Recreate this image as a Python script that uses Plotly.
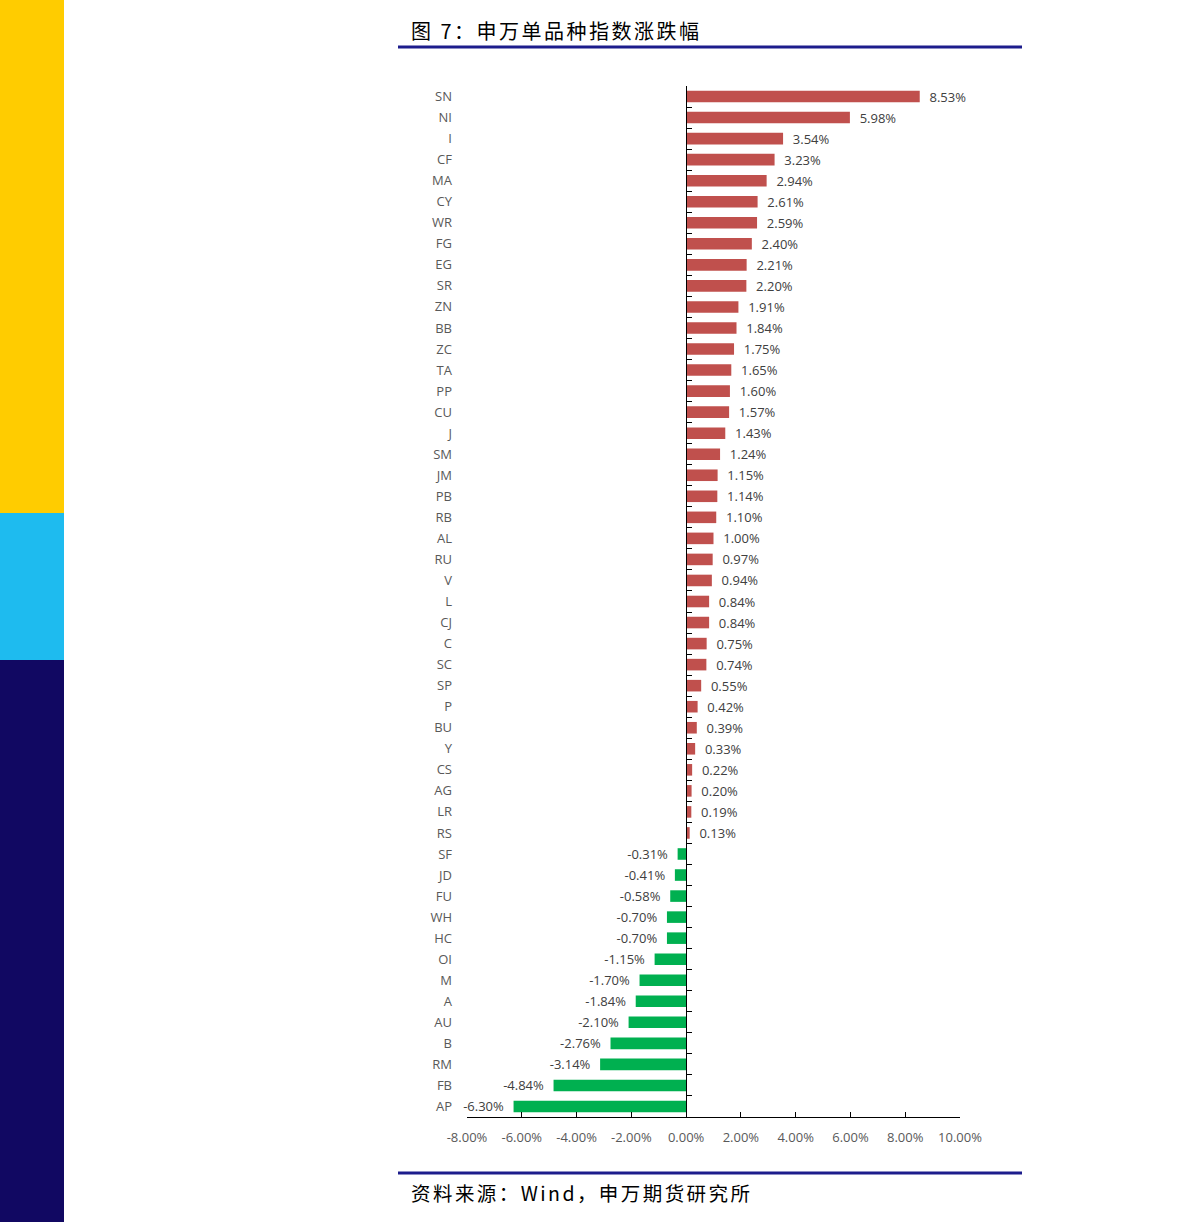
import plotly.graph_objects as go

categories = ["SN","NI","I","CF","MA","CY","WR","FG","EG","SR","ZN","BB","ZC","TA","PP","CU","J","SM","JM","PB","RB","AL","RU","V","L","CJ","C","SC","SP","P","BU","Y","CS","AG","LR","RS","SF","JD","FU","WH","HC","OI","M","A","AU","B","RM","FB","AP"]
values = [8.53,5.98,3.54,3.23,2.94,2.61,2.59,2.40,2.21,2.20,1.91,1.84,1.75,1.65,1.60,1.57,1.43,1.24,1.15,1.14,1.10,1.00,0.97,0.94,0.84,0.84,0.75,0.74,0.55,0.42,0.39,0.33,0.22,0.20,0.19,0.13,-0.31,-0.41,-0.58,-0.70,-0.70,-1.15,-1.70,-1.84,-2.10,-2.76,-3.14,-4.84,-6.30]
x_ticks = [-8, -6, -4, -2, 0, 2, 4, 6, 8, 10]
title_text = "图 7：申万单品种指数涨跌幅"
source_text = "资料来源：Wind，申万期货研究所"

W, H = 1191, 1222
ML, MR, MT, MB = 467, 231, 86, 105
PW = W - ML - MR
PH = H - MT - MB

def px(x):
    return (x - ML) / PW

def py(y):
    return 1 - (y - MT) / PH

def spaced(s, sep):
    return sep.join(list(s))

n = len(categories)
idx = list(range(n))
colors = ["#C0504D" if v >= 0 else "#00B050" for v in values]
nb = "\u00a0"
texts = [f"{nb}{nb}{v:.2f}%{nb}{nb}" for v in values]

fig = go.Figure()
fig.add_trace(go.Bar(
    x=values, y=idx, orientation="h", marker=dict(color=colors, line=dict(width=0)),
    width=0.55, text=texts, textposition="outside", cliponaxis=False, constraintext="none",
    textfont=dict(family="Open Sans", size=13, color="#404040"),
    showlegend=False, hoverinfo="skip"))
# helper trace so the zero-position axis with boundary ticks is drawn
fig.add_trace(go.Scatter(x=[0], y=[0], yaxis="y2", mode="markers",
                         marker=dict(opacity=0), showlegend=False, hoverinfo="skip"))

xmin, xmax = x_ticks[0], x_ticks[-1]
zero_pos = (0 - xmin) / (xmax - xmin)

fig.update_layout(
    width=W, height=H,
    margin=dict(l=ML, r=MR, t=MT, b=MB),
    paper_bgcolor="white", plot_bgcolor="white",
    xaxis=dict(range=[xmin, xmax], tickvals=x_ticks,
               ticktext=[f"{t:.2f}%" for t in x_ticks],
               showgrid=False, zeroline=False, showline=True, linecolor="#000000", linewidth=1,
               ticks="inside", ticklen=5, tickcolor="#000000",
               tickfont=dict(family="Open Sans", size=13, color="#595959"),
               ticklabelstandoff=8),
    yaxis=dict(range=[n - 0.5, -0.5], tickvals=idx, ticktext=categories,
               showgrid=False, zeroline=False, showline=False, ticks="",
               tickfont=dict(family="Open Sans", size=13, color="#595959"),
               ticklabelstandoff=14),
    yaxis2=dict(overlaying="y", anchor="free", position=zero_pos, side="left",
                range=[n - 0.5, -0.5], tickvals=[i - 0.5 for i in range(n + 1)],
                ticktext=["" for _ in range(n + 1)],
                showgrid=False, zeroline=False, showline=True, linecolor="#000000", linewidth=1,
                ticks="inside", ticklen=5, tickcolor="#000000"),
    bargap=0.45,
)

shapes = []
# left decorative stripes
for y0, y1, c in [(0, 513, "#FFCC00"), (513, 660, "#1EBBEF"), (660, H, "#110862")]:
    shapes.append(dict(type="rect", xref="paper", yref="paper",
                       x0=px(0), x1=px(64), y0=py(y1), y1=py(y0),
                       fillcolor=c, line=dict(width=0), layer="below"))
# title and source rules
for yy in [47, 1173]:
    shapes.append(dict(type="line", xref="paper", yref="paper",
                       x0=px(398), x1=px(1022), y0=py(yy), y1=py(yy),
                       line=dict(color="#1C1C8C", width=3)))
fig.update_layout(shapes=shapes)

fig.add_annotation(text=spaced(title_text, "\u200a\u200a"), xref="paper", yref="paper", x=px(409), y=py(31),
                   xanchor="left", yanchor="middle", showarrow=False,
                   font=dict(family="Noto Sans CJK SC", size=20, color="#000000"))
fig.add_annotation(text=spaced(source_text, "\u200a\u200a"), xref="paper", yref="paper", x=px(409), y=py(1192),
                   xanchor="left", yanchor="middle", showarrow=False,
                   font=dict(family="Noto Sans CJK SC", size=19.5, color="#000000"))

fig.write_html("out.html")
